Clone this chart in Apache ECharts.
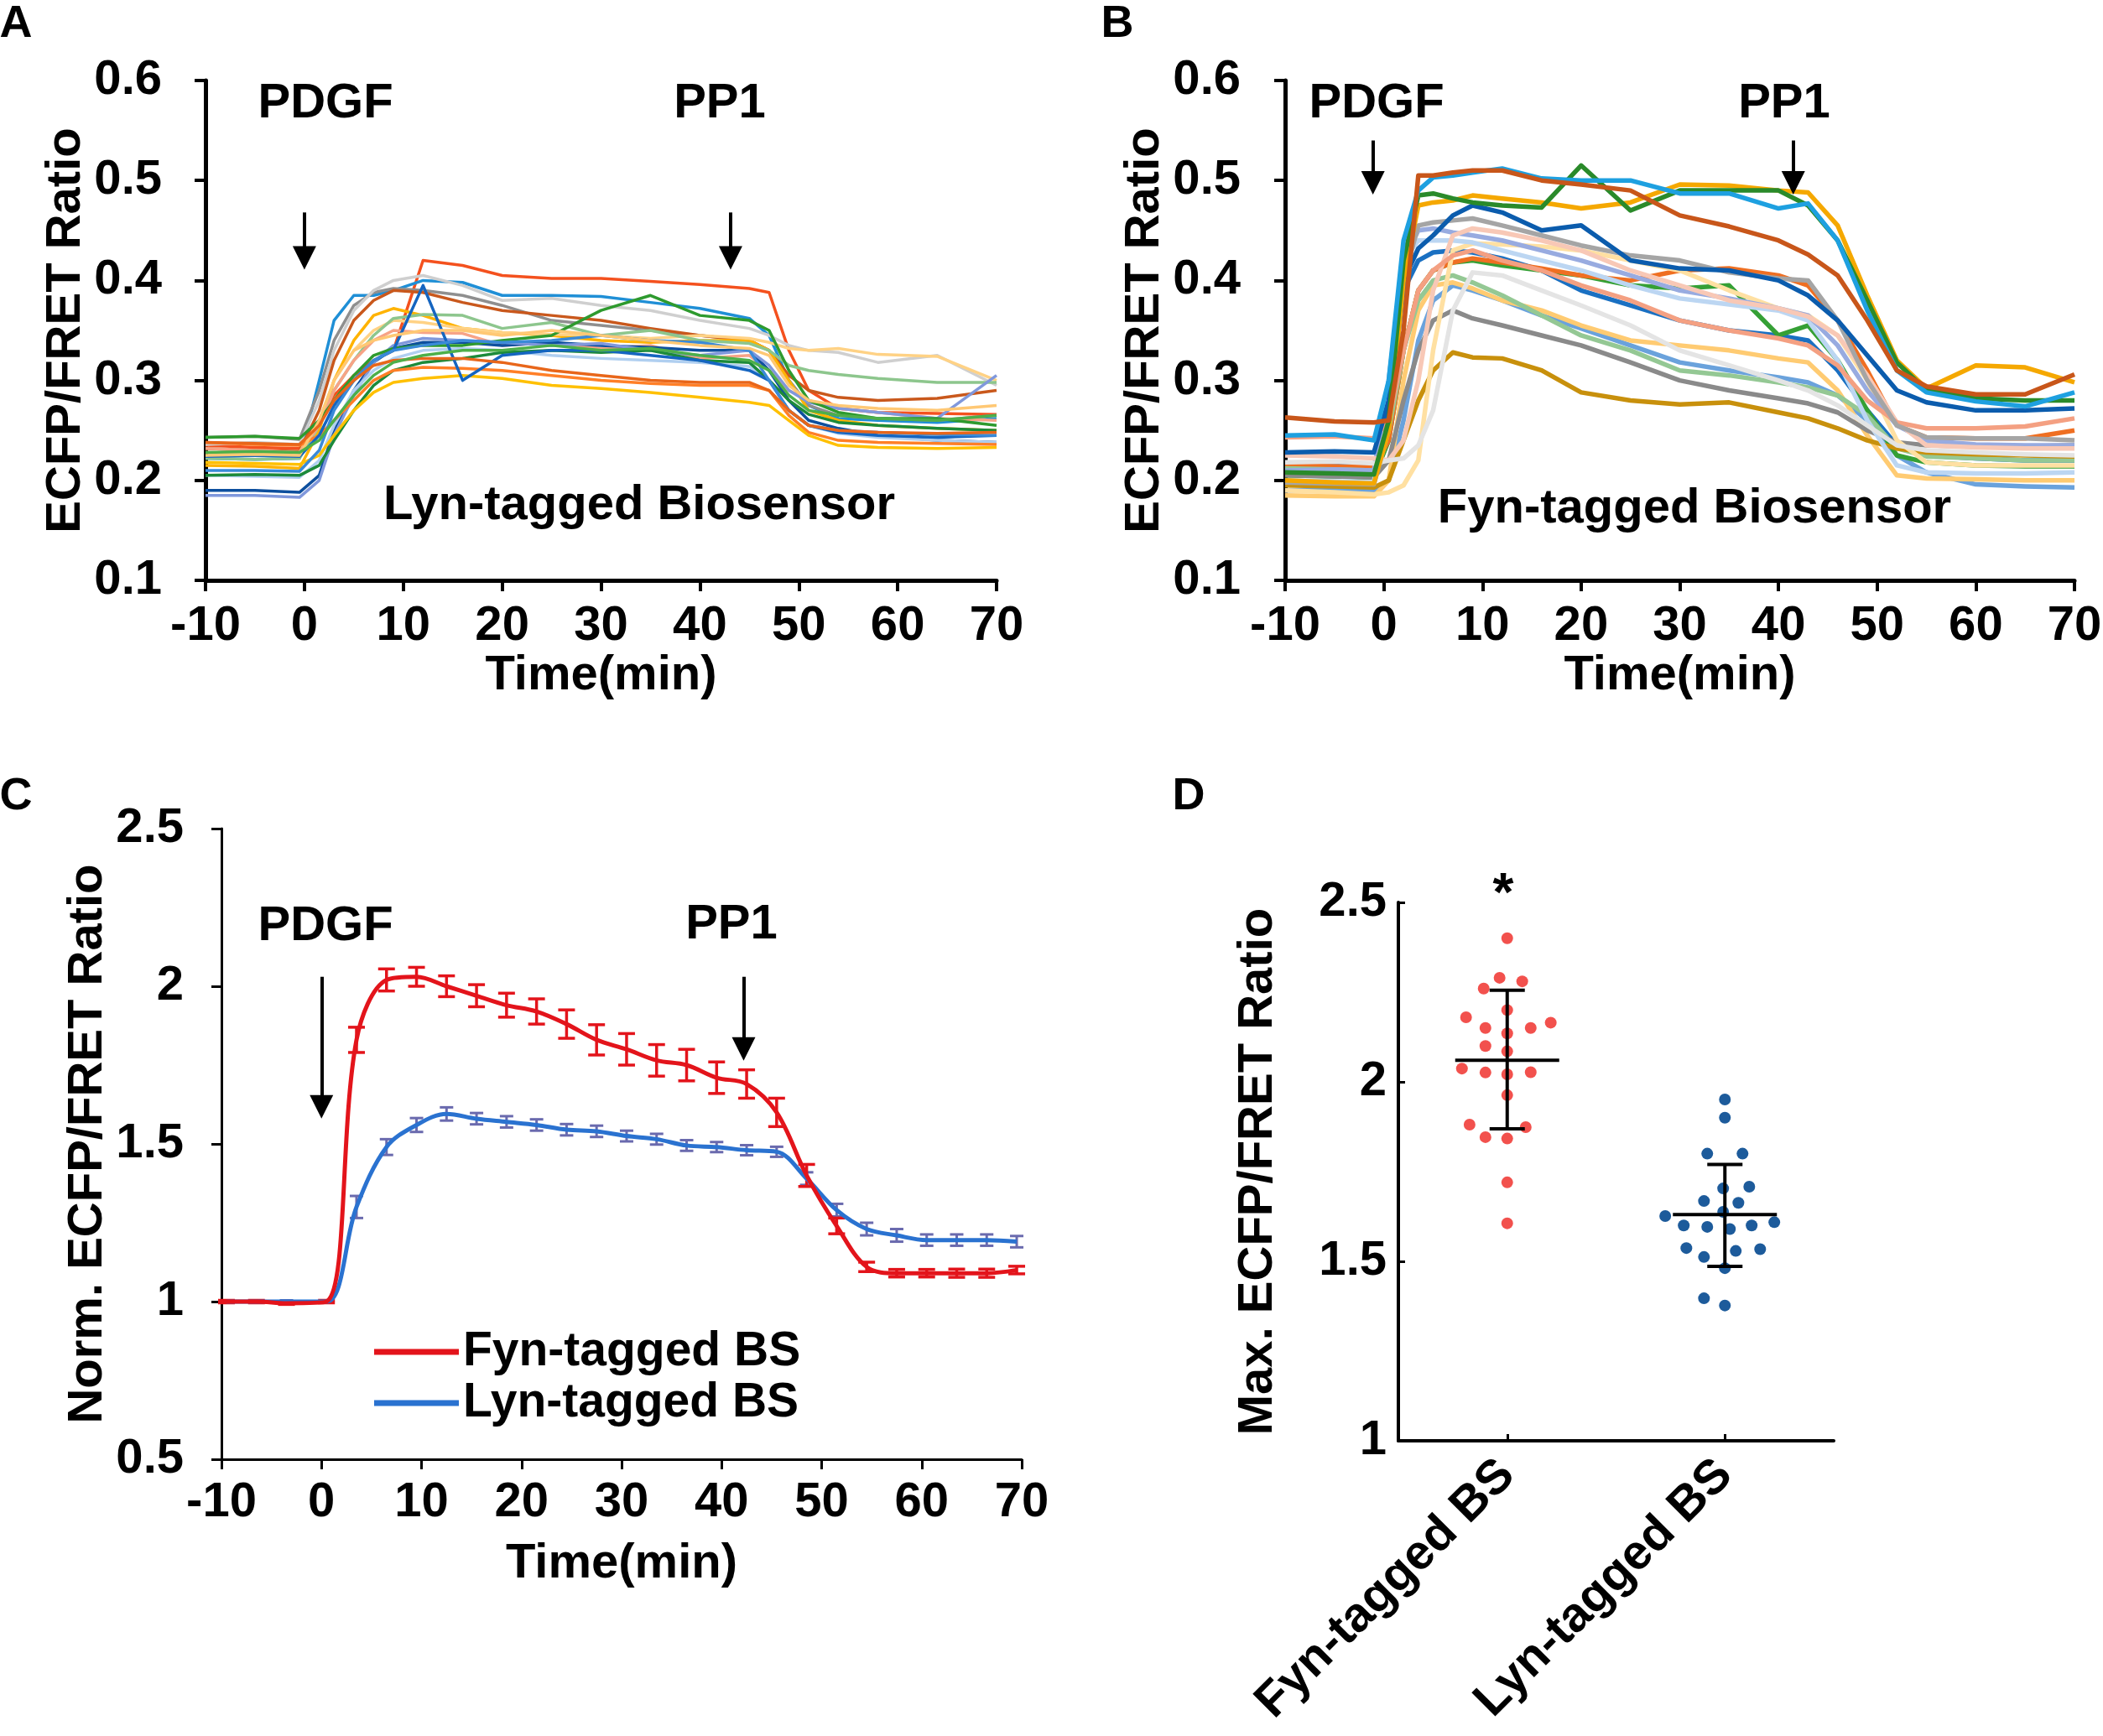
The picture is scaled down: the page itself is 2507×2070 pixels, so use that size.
<!DOCTYPE html>
<html>
<head>
<meta charset="utf-8">
<script src="https://cdn.jsdelivr.net/npm/echarts@6/dist/echarts.min.js"></script>
<style>
html, body { margin: 0; padding: 0; background: #fff; }
#chart { width: 2507px; height: 2070px; }
</style>
</head>
<body>
<div id="chart"></div>
<script>
// ---- Panel A: Lyn-tagged biosensor, single cells ----
var timeA = [-10, -5, -0.5, 1.5, 3, 5, 7, 9, 12, 16, 20, 25, 30, 35, 40, 45, 47, 49, 51, 54, 58, 64, 70];
var lynTraces = [
  [0.235,0.233,0.232,0.26,0.285,0.305,0.32,0.33,0.42,0.415,0.405,0.402,0.402,0.399,0.396,0.392,0.388,0.33,0.29,0.272,0.268,0.267,0.266],
  [0.222,0.221,0.222,0.3,0.36,0.385,0.385,0.39,0.4,0.398,0.385,0.385,0.384,0.378,0.372,0.362,0.345,0.3,0.275,0.262,0.26,0.258,0.262],
  [0.243,0.244,0.241,0.29,0.34,0.375,0.388,0.392,0.39,0.385,0.375,0.36,0.355,0.35,0.345,0.34,0.33,0.3,0.275,0.265,0.262,0.26,0.265],
  [0.236,0.238,0.236,0.28,0.33,0.37,0.39,0.4,0.405,0.395,0.38,0.382,0.375,0.37,0.36,0.352,0.345,0.335,0.33,0.328,0.318,0.325,0.295],
  [0.232,0.23,0.229,0.27,0.32,0.36,0.38,0.39,0.388,0.378,0.37,0.365,0.36,0.352,0.345,0.34,0.33,0.305,0.29,0.283,0.28,0.282,0.29],
  [0.215,0.214,0.212,0.25,0.3,0.34,0.365,0.372,0.365,0.352,0.348,0.345,0.34,0.338,0.34,0.34,0.33,0.3,0.27,0.26,0.255,0.252,0.25],
  [0.228,0.227,0.228,0.26,0.3,0.33,0.35,0.36,0.358,0.352,0.348,0.346,0.345,0.342,0.345,0.342,0.338,0.332,0.33,0.332,0.326,0.324,0.3],
  [0.222,0.221,0.222,0.255,0.29,0.32,0.345,0.362,0.366,0.365,0.352,0.358,0.345,0.35,0.34,0.337,0.33,0.315,0.31,0.306,0.302,0.298,0.298],
  [0.232,0.23,0.228,0.255,0.29,0.32,0.34,0.35,0.348,0.347,0.335,0.338,0.332,0.335,0.322,0.325,0.31,0.29,0.28,0.272,0.268,0.262,0.26],
  [0.19,0.19,0.188,0.205,0.25,0.29,0.318,0.332,0.338,0.338,0.335,0.338,0.335,0.333,0.33,0.33,0.31,0.28,0.26,0.252,0.245,0.24,0.238],
  [0.185,0.185,0.183,0.2,0.245,0.285,0.318,0.335,0.342,0.34,0.338,0.335,0.337,0.33,0.325,0.33,0.315,0.29,0.278,0.272,0.268,0.262,0.305],
  [0.205,0.204,0.203,0.22,0.255,0.29,0.31,0.322,0.33,0.332,0.33,0.325,0.322,0.32,0.318,0.314,0.3,0.27,0.255,0.247,0.243,0.24,0.238],
  [0.243,0.244,0.242,0.26,0.28,0.305,0.325,0.332,0.335,0.335,0.34,0.345,0.37,0.385,0.365,0.36,0.35,0.31,0.28,0.268,0.262,0.262,0.255],
  [0.205,0.206,0.205,0.215,0.24,0.27,0.295,0.31,0.318,0.322,0.328,0.33,0.328,0.33,0.32,0.318,0.3,0.28,0.266,0.258,0.255,0.252,0.25],
  [0.238,0.236,0.235,0.245,0.26,0.28,0.3,0.31,0.313,0.312,0.31,0.305,0.3,0.297,0.295,0.295,0.29,0.265,0.248,0.24,0.238,0.237,0.236],
  [0.218,0.217,0.216,0.225,0.245,0.27,0.288,0.298,0.302,0.305,0.302,0.295,0.292,0.288,0.283,0.278,0.275,0.26,0.245,0.235,0.233,0.232,0.233],
  [0.224,0.225,0.224,0.245,0.275,0.3,0.32,0.33,0.395,0.3,0.325,0.33,0.33,0.325,0.32,0.31,0.3,0.27,0.255,0.248,0.245,0.243,0.245],
  [0.21,0.21,0.209,0.23,0.27,0.3,0.32,0.33,0.335,0.34,0.338,0.34,0.345,0.34,0.338,0.33,0.3,0.27,0.255,0.25,0.248,0.246,0.245],
  [0.225,0.226,0.225,0.26,0.3,0.33,0.34,0.345,0.35,0.35,0.345,0.35,0.345,0.34,0.335,0.332,0.325,0.295,0.28,0.275,0.272,0.27,0.275],
  [0.238,0.237,0.236,0.255,0.28,0.3,0.315,0.32,0.322,0.322,0.318,0.31,0.305,0.3,0.298,0.298,0.29,0.27,0.255,0.25,0.248,0.247,0.248],
  [0.228,0.229,0.228,0.24,0.26,0.285,0.305,0.318,0.325,0.33,0.33,0.335,0.33,0.332,0.325,0.32,0.31,0.285,0.27,0.265,0.262,0.26,0.265]
];
var lynColors = ['#f4511e','#1f8fd6','#8f8f8f','#cfcfcf','#c9581c','#ffb300','#ffd285','#8dc68d','#f7a386','#0d4f9e',
  '#8098dc','#b0cff0','#2e9a2e','#1c8a3a','#ff7f27','#ffc000','#1565c0','#3a8ad8','#ffc874','#e8661a','#4daf4a'];

// ---- Panel B: Fyn-tagged biosensor, single cells ----
var timeB = [-10, -5, -1, 0.5, 2, 3.5, 5, 7, 9, 12, 16, 20, 25, 30, 35, 40, 43, 46, 49, 52, 55, 60, 65, 70];
var fynTraces = [
  [0.263,0.259,0.258,0.26,0.35,0.505,0.505,0.508,0.51,0.51,0.5,0.496,0.49,0.465,0.454,0.44,0.426,0.405,0.36,0.31,0.294,0.286,0.286,0.306],
  [0.245,0.246,0.24,0.3,0.44,0.49,0.503,0.505,0.508,0.512,0.502,0.5,0.5,0.487,0.487,0.472,0.477,0.44,0.37,0.31,0.288,0.279,0.274,0.288],
  [0.208,0.207,0.206,0.26,0.42,0.485,0.487,0.482,0.478,0.475,0.473,0.515,0.47,0.49,0.49,0.49,0.475,0.44,0.38,0.318,0.29,0.282,0.28,0.28],
  [0.2,0.198,0.197,0.25,0.4,0.475,0.478,0.48,0.485,0.482,0.478,0.472,0.478,0.496,0.495,0.49,0.488,0.455,0.385,0.32,0.292,0.315,0.313,0.298],
  [0.228,0.229,0.228,0.28,0.4,0.432,0.445,0.465,0.475,0.468,0.45,0.455,0.42,0.412,0.41,0.4,0.385,0.36,0.325,0.29,0.278,0.27,0.27,0.272],
  [0.198,0.197,0.196,0.25,0.4,0.455,0.458,0.46,0.462,0.455,0.445,0.435,0.425,0.42,0.408,0.402,0.4,0.36,0.3,0.255,0.243,0.242,0.242,0.24],
  [0.218,0.219,0.217,0.22,0.222,0.235,0.27,0.37,0.408,0.405,0.39,0.375,0.355,0.33,0.315,0.3,0.29,0.275,0.255,0.235,0.23,0.228,0.226,0.225],
  [0.243,0.244,0.242,0.26,0.33,0.39,0.41,0.425,0.43,0.42,0.41,0.395,0.38,0.36,0.35,0.342,0.335,0.315,0.28,0.258,0.252,0.252,0.254,0.262],
  [0.225,0.224,0.222,0.22,0.24,0.3,0.39,0.445,0.452,0.448,0.44,0.43,0.41,0.395,0.38,0.372,0.364,0.345,0.305,0.258,0.235,0.233,0.232,0.232],
  [0.21,0.211,0.21,0.3,0.42,0.45,0.452,0.448,0.445,0.44,0.43,0.42,0.405,0.39,0.382,0.372,0.365,0.335,0.29,0.255,0.24,0.236,0.235,0.235],
  [0.2,0.199,0.198,0.3,0.42,0.44,0.44,0.44,0.438,0.43,0.42,0.41,0.395,0.382,0.376,0.37,0.36,0.32,0.26,0.215,0.208,0.207,0.207,0.208],
  [0.19,0.188,0.186,0.188,0.195,0.22,0.33,0.43,0.437,0.436,0.434,0.43,0.42,0.41,0.39,0.372,0.365,0.345,0.3,0.24,0.218,0.215,0.215,0.215],
  [0.195,0.194,0.193,0.2,0.24,0.28,0.31,0.328,0.323,0.322,0.31,0.288,0.28,0.276,0.278,0.268,0.262,0.252,0.24,0.232,0.228,0.226,0.225,0.224],
  [0.205,0.204,0.203,0.22,0.28,0.33,0.36,0.37,0.362,0.355,0.345,0.335,0.318,0.3,0.29,0.282,0.277,0.268,0.25,0.238,0.235,0.234,0.234,0.235],
  [0.212,0.211,0.21,0.25,0.33,0.38,0.4,0.405,0.398,0.385,0.365,0.345,0.33,0.31,0.305,0.298,0.293,0.285,0.265,0.232,0.224,0.222,0.22,0.22],
  [0.215,0.214,0.213,0.24,0.33,0.39,0.41,0.418,0.422,0.418,0.412,0.405,0.4,0.41,0.412,0.405,0.395,0.36,0.31,0.255,0.243,0.242,0.242,0.25],
  [0.205,0.204,0.203,0.24,0.33,0.39,0.41,0.418,0.42,0.415,0.41,0.405,0.395,0.392,0.395,0.345,0.355,0.32,0.27,0.225,0.218,0.215,0.214,0.214],
  [0.216,0.215,0.214,0.27,0.39,0.42,0.428,0.43,0.428,0.422,0.41,0.39,0.375,0.36,0.35,0.345,0.34,0.31,0.27,0.235,0.225,0.222,0.22,0.22],
  [0.185,0.184,0.184,0.2,0.3,0.37,0.395,0.398,0.392,0.38,0.37,0.355,0.34,0.335,0.33,0.322,0.318,0.29,0.245,0.205,0.202,0.201,0.2,0.2],
  [0.19,0.19,0.189,0.2,0.26,0.34,0.38,0.395,0.39,0.38,0.365,0.352,0.335,0.318,0.31,0.303,0.298,0.285,0.26,0.225,0.208,0.196,0.194,0.193]
];
var fynColors = ['#c8561a','#1ea0e0','#2a8a2a','#f5a800','#0b5cad','#a5a5a5','#e4e4e4','#f4a082','#f8c8b6','#98abe0',
  '#bcd6f2','#ffe0a2','#c8900c','#8a8a8a','#94c894','#ef6f22','#35a035','#1a70c2','#ffcb72','#6aa2dc'];

// ---- Panel C: normalized mean +/- SEM ----
var timeC = [-9.5, -6.5, -3.5, 0.5, 3.5, 6.5, 9.5, 12.5, 15.5, 18.5, 21.5, 24.5, 27.5, 30.5, 33.5, 36.5, 39.5, 42.5, 45.5, 48.5, 51.5, 54.5, 57.5, 60.5, 63.5, 66.5, 69.5];
var fynMean = [1.0,1.0,0.995,1.0,1.83,2.02,2.03,2.0,1.97,1.94,1.92,1.88,1.83,1.80,1.765,1.75,1.71,1.69,1.60,1.40,1.24,1.11,1.09,1.09,1.09,1.09,1.10];
var fynErr = [0.004,0.004,0.004,0.004,0.04,0.035,0.03,0.033,0.035,0.038,0.04,0.045,0.048,0.05,0.05,0.05,0.05,0.045,0.045,0.035,0.025,0.015,0.012,0.012,0.013,0.013,0.012];
var lynMean = [1.0,1.0,1.0,1.0,1.30,1.49,1.56,1.595,1.58,1.57,1.56,1.545,1.54,1.525,1.515,1.495,1.49,1.48,1.475,1.39,1.29,1.23,1.21,1.195,1.195,1.195,1.19];
var lynErr = [0.004,0.004,0.004,0.004,0.035,0.025,0.022,0.021,0.018,0.018,0.018,0.018,0.018,0.017,0.017,0.017,0.016,0.016,0.016,0.02,0.02,0.02,0.02,0.018,0.018,0.018,0.018];

// ---- Panel D: max ratio per cell ----
var groupNames = ['Fyn-tagged BS', 'Lyn-tagged BS'];
var fynMaxX = [0.5,0.465,0.569,0.392,0.5,0.311,0.4,0.5,0.608,0.7,0.4,0.5,0.292,0.4,0.5,0.608,0.5,0.327,0.585,0.4,0.5,0.5,0.5];
var fynMaxY = [2.40,2.29,2.28,2.26,2.20,2.18,2.15,2.135,2.15,2.165,2.10,2.085,2.037,2.026,2.021,2.027,1.963,1.881,1.874,1.846,1.842,1.72,1.606];
var lynMaxX = [1.5,1.5,1.419,1.581,1.492,1.612,1.404,1.562,1.226,1.492,1.727,1.311,1.419,1.523,1.623,1.323,1.662,1.55,1.404,1.5,1.404,1.5];
var lynMaxY = [1.951,1.90,1.80,1.80,1.703,1.708,1.668,1.663,1.626,1.638,1.609,1.60,1.596,1.59,1.60,1.537,1.534,1.529,1.512,1.481,1.397,1.377];
var statX = [0.5, 1.5];
var statMean = [2.06, 1.63];
var statLow = [1.869, 1.486];
var statHigh = [2.255, 1.77];

var FONT = '"Liberation Sans", Arial, Helvetica, sans-serif';

function txt(size) {
  return { fontFamily: FONT, fontWeight: 'bold', fontSize: size, color: '#000' };
}

function axis(grid, min, max, interval, o) {
  var tick = { show: o.tickShow !== false, inside: !!o.tickInside, length: o.tickLen || 12,
    lineStyle: { color: '#000', width: o.tickWidth || 3 } };
  var label = Object.assign({ margin: o.margin }, txt(58));
  if (o.formatter) label.formatter = o.formatter;
  if (o.rotate) label.rotate = o.rotate;
  if (o.customValues) { tick.customValues = o.customValues; label.customValues = o.customValues; }
  return {
    type: 'value', gridIndex: grid, min: min, max: max, interval: interval,
    name: o.name || '', nameLocation: 'middle', nameGap: o.nameGap || 0,
    nameTextStyle: txt(58),
    axisLine: { show: true, onZero: false, lineStyle: { color: '#000', width: o.lineWidth } },
    axisTick: tick, axisLabel: label,
    splitLine: { show: false }
  };
}

function arrowLine(list) {
  return {
    silent: true, symbol: ['none', 'triangle'], symbolSize: 28,
    label: { show: false },
    lineStyle: { color: '#000', width: 4, type: 'solid' },
    emphasis: { disabled: true },
    data: list.map(function (a) { return [{ coord: [a[0], a[1]] }, { coord: [a[0], a[2]] }]; })
  };
}

function errorBars(capHalf, color, width) {
  return function (params, api) {
    var a = api.coord([api.value(0), api.value(1)]);
    var b = api.coord([api.value(0), api.value(2)]);
    var st = { stroke: color, lineWidth: width };
    return { type: 'group', children: [
      { type: 'line', shape: { x1: a[0], y1: a[1], x2: b[0], y2: b[1] }, style: st },
      { type: 'line', shape: { x1: a[0] - capHalf, y1: a[1], x2: a[0] + capHalf, y2: a[1] }, style: st },
      { type: 'line', shape: { x1: b[0] - capHalf, y1: b[1], x2: b[0] + capHalf, y2: b[1] }, style: st }
    ] };
  };
}

function statBars(params, api) {
  var m = api.coord([api.value(0), api.value(1)]);
  var lo = api.coord([api.value(0), api.value(2)]);
  var hi = api.coord([api.value(0), api.value(3)]);
  var st = { stroke: '#000', lineWidth: 4 };
  return { type: 'group', children: [
    { type: 'line', shape: { x1: m[0] - 62, y1: m[1], x2: m[0] + 62, y2: m[1] }, style: st },
    { type: 'line', shape: { x1: lo[0], y1: lo[1], x2: hi[0], y2: hi[1] }, style: st },
    { type: 'line', shape: { x1: lo[0] - 21, y1: lo[1], x2: lo[0] + 21, y2: lo[1] }, style: st },
    { type: 'line', shape: { x1: hi[0] - 21, y1: hi[1], x2: hi[0] + 21, y2: hi[1] }, style: st }
  ] };
}

var series = [];

lynTraces.forEach(function (tr, i) {
  var s = {
    type: 'line', name: 'Lyn cell ' + (i + 1), xAxisIndex: 0, yAxisIndex: 0,
    data: timeA.map(function (t, j) { return [t, tr[j]]; }),
    showSymbol: false, symbol: 'none', color: lynColors[i],
    lineStyle: { width: 3.5, color: lynColors[i], join: 'round' }, silent: true
  };
  if (i === 0) s.markLine = arrowLine([[0, 0.468, 0.4225], [43.1, 0.468, 0.4225]]);
  series.push(s);
});

for (var k = fynTraces.length - 1; k >= 0; k--) {
  (function (i) {
    var tr = fynTraces[i];
    var s = {
      type: 'line', name: 'Fyn cell ' + (i + 1), xAxisIndex: 1, yAxisIndex: 1,
      data: timeB.map(function (t, j) { return [t, tr[j]]; }),
      showSymbol: false, symbol: 'none', color: fynColors[i],
      lineStyle: { width: 5.5, color: fynColors[i], join: 'round' }, silent: true
    };
    if (i === 0) s.markLine = arrowLine([[-1.1, 0.54, 0.4977], [41.5, 0.54, 0.4977]]);
    series.push(s);
  })(k);
}

series.push({
  type: 'line', name: 'Lyn-tagged BS', xAxisIndex: 2, yAxisIndex: 2,
  data: timeC.map(function (t, j) { return [t, lynMean[j]]; }),
  smooth: 0.35, showSymbol: false, symbol: 'none', color: '#2a72d0',
  lineStyle: { width: 5, color: '#2a72d0' }, silent: true
});
series.push({
  type: 'custom', name: 'Lyn SEM', xAxisIndex: 2, yAxisIndex: 2,
  renderItem: errorBars(8, '#6a6aae', 3), silent: true,
  data: timeC.map(function (t, j) { return [t, lynMean[j] - lynErr[j], lynMean[j] + lynErr[j]]; })
});
series.push({
  type: 'line', name: 'Fyn-tagged BS', xAxisIndex: 2, yAxisIndex: 2,
  data: timeC.map(function (t, j) { return [t, fynMean[j]]; }),
  smooth: 0.35, showSymbol: false, symbol: 'none', color: '#e3141b',
  lineStyle: { width: 5, color: '#e3141b' }, silent: true,
  markLine: arrowLine([[0, 2.03, 1.618], [42.2, 2.03, 1.801]])
});
series.push({
  type: 'custom', name: 'Fyn SEM', xAxisIndex: 2, yAxisIndex: 2,
  renderItem: errorBars(10, '#e3141b', 3.5), silent: true,
  data: timeC.map(function (t, j) { return [t, fynMean[j] - fynErr[j], fynMean[j] + fynErr[j]]; })
});

series.push({
  type: 'scatter', name: 'Fyn max', xAxisIndex: 3, yAxisIndex: 3, symbolSize: 14,
  itemStyle: { color: '#f2514d', opacity: 1 }, silent: true,
  data: fynMaxX.map(function (x, j) { return [x, fynMaxY[j]]; })
});
series.push({
  type: 'scatter', name: 'Lyn max', xAxisIndex: 3, yAxisIndex: 3, symbolSize: 14,
  itemStyle: { color: '#1d5b9b', opacity: 1 }, silent: true,
  data: lynMaxX.map(function (x, j) { return [x, lynMaxY[j]]; })
});
series.push({
  type: 'custom', name: 'Mean SD', xAxisIndex: 3, yAxisIndex: 3, renderItem: statBars, silent: true, z: 5,
  data: statX.map(function (x, j) { return [x, statMean[j], statLow[j], statHigh[j]]; })
});

function label(text, x, y, size) {
  return { type: 'text', x: x, y: y, silent: true,
    style: { text: text, fill: '#000', font: 'bold ' + size + 'px ' + FONT, align: 'center', verticalAlign: 'middle' } };
}

var option = {
  animation: false,
  backgroundColor: '#fff',
  grid: [
    { left: 245, top: 96, width: 943, height: 596, outerBoundsMode: 'none' },
    { left: 1532, top: 96, width: 941, height: 596, outerBoundsMode: 'none' },
    { left: 264, top: 988, width: 954, height: 752, outerBoundsMode: 'none' },
    { left: 1667, top: 1076, width: 519, height: 642, outerBoundsMode: 'none' }
  ],
  xAxis: [
    axis(0, -10, 70, 10, { name: 'Time(min)', nameGap: 72, lineWidth: 5, tickLen: 13, tickWidth: 4, margin: 26 }),
    axis(1, -10, 70, 10, { name: 'Time(min)', nameGap: 72, lineWidth: 5, tickLen: 13, tickWidth: 4, margin: 26 }),
    axis(2, -10, 70, 10, { name: 'Time(min)', nameGap: 96, lineWidth: 3, tickLen: 12, tickWidth: 3, margin: 23 }),
    axis(3, 0, 2, 0.5, { lineWidth: 4, tickLen: 8, tickWidth: 3, tickInside: true, margin: 32, rotate: 45,
      customValues: statX,
      formatter: function (v) { return v < 1 ? groupNames[0] : groupNames[1]; } })
  ],
  yAxis: [
    axis(0, 0.1, 0.6, 0.1, { name: 'ECFP/FRET Ratio', nameGap: 130, lineWidth: 5, tickLen: 13, tickWidth: 4, margin: 52 }),
    axis(1, 0.1, 0.6, 0.1, { name: 'ECFP/FRET Ratio', nameGap: 128, lineWidth: 5, tickLen: 13, tickWidth: 4, margin: 53 }),
    axis(2, 0.5, 2.5, 0.5, { name: 'Norm. ECFP/FRET Ratio', nameGap: 128, lineWidth: 3, tickLen: 12, tickWidth: 3, margin: 45 }),
    axis(3, 1, 2.5, 0.5, { name: 'Max. ECFP/FRET Ratio', nameGap: 138, lineWidth: 4, tickLen: 8, tickWidth: 3, tickInside: true, margin: 14 })
  ],
  legend: {
    data: ['Fyn-tagged BS', 'Lyn-tagged BS'], selectedMode: false,
    orient: 'vertical', left: 441, top: 1577, icon: 'rect', itemWidth: 101, itemHeight: 7, itemGap: 1,
    textStyle: Object.assign({ lineHeight: 60, padding: [0, 0, 0, 0] }, txt(57))
  },
  graphic: [
    label('A', 19, 29, 54), label('B', 1332, 29, 54), label('C', 19, 950, 54), label('D', 1417, 950, 54),
    label('PDGF', 388, 124, 58), label('PP1', 858, 124, 58), label('Lyn-tagged Biosensor', 762, 603, 58),
    label('PDGF', 1641, 124, 58), label('PP1', 2127, 124, 58), label('Fyn-tagged Biosensor', 2020, 607, 58),
    label('PDGF', 388, 1105, 58), label('PP1', 872, 1103, 58),
    label('*', 1792, 1068, 64)
  ],
  series: series
};

var chart = echarts.init(document.getElementById('chart'));
chart.setOption(option);
</script>
</body>
</html>
